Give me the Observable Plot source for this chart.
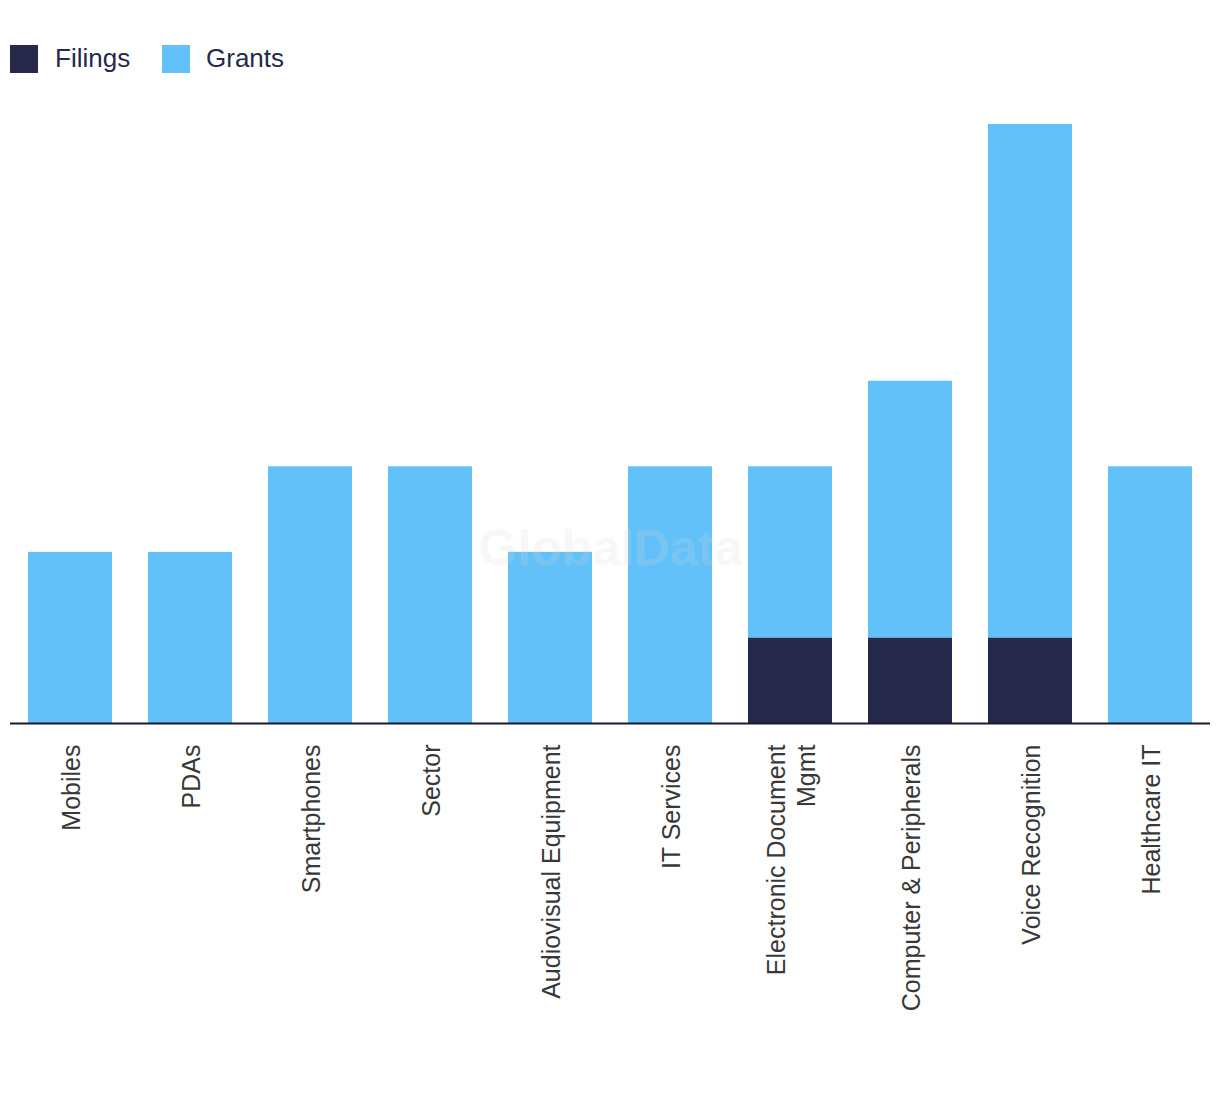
<!DOCTYPE html>
<html>
<head>
<meta charset="utf-8">
<script src="https://cdn.jsdelivr.net/npm/d3@7"></script>
<script src="https://cdn.jsdelivr.net/npm/@observablehq/plot@0.6"></script>
<style>
  html, body { margin: 0; padding: 0; background: #fff; }
  #legend { height: 90px; position: relative; font-family: "Liberation Sans", Arial, sans-serif; font-size: 26px; color: #262949; }
  .sw { position: absolute; top: 45px; width: 28px; height: 28px; }
  .lb { position: absolute; top: 43px; line-height: 30px; }
  #chart { position: relative; }
</style>
</head>
<body>
<div id="legend"></div>
<div id="chart"></div>
<script>
const categories = ["Mobiles", "PDAs", "Smartphones", "Sector", "Audiovisual Equipment", "IT Services", "Electronic Document\nMgmt", "Computer & Peripherals", "Voice Recognition", "Healthcare IT"];
const filings = [0, 0, 0, 0, 0, 0, 1, 1, 1, 0];
const grants  = [2, 2, 3, 3, 2, 3, 2, 3, 6, 3];
const seriesNames = ["Filings", "Grants"];
const seriesColors = ["#262949", "#62c1f8"];

const data = [];
categories.forEach((c, i) => {
  data.push({category: c, series: "Filings", value: filings[i]});
  data.push({category: c, series: "Grants", value: grants[i]});
});

// legend
const legend = document.getElementById("legend");
const legendX = [[10, 55], [162, 206]];
seriesNames.forEach((s, i) => {
  const sw = document.createElement("div");
  sw.className = "sw"; sw.style.left = legendX[i][0] + "px"; sw.style.background = seriesColors[i];
  const lb = document.createElement("div");
  lb.className = "lb"; lb.style.left = legendX[i][1] + "px"; lb.textContent = s;
  legend.appendChild(sw); legend.appendChild(lb);
});

const chart = Plot.plot({
  width: 1220,
  height: 1000,
  marginTop: 34,
  marginBottom: 367,
  marginLeft: 10,
  marginRight: 10,
  style: {fontFamily: "Liberation Sans, Arial, sans-serif", background: "transparent"},
  x: {domain: categories, paddingInner: 0.3, paddingOuter: 0.15, axis: null},
  y: {domain: [0, 7], axis: null},
  color: {domain: seriesNames, range: seriesColors},
  marks: [
    Plot.barY(data, Plot.stackY({order: seriesNames}, {x: "category", y: "value", fill: "series"})),
    Plot.ruleY([0], {stroke: "#1b1b30", strokeWidth: 2}),
    Plot.text(categories, {x: d => d, frameAnchor: "bottom", rotate: -90, textAnchor: "end", lineAnchor: "middle", dy: 21, fontSize: 25, fill: "#383838", lineHeight: 1.2}),
    Plot.text(["GlobalData"], {frameAnchor: "top-left", dx: 600, dy: 405, textAnchor: "middle", fontSize: 50, fontWeight: "bold", fill: "#d8d8d8", fillOpacity: 0.2})
  ]
});
document.getElementById("chart").appendChild(chart);
</script>
</body>
</html>
